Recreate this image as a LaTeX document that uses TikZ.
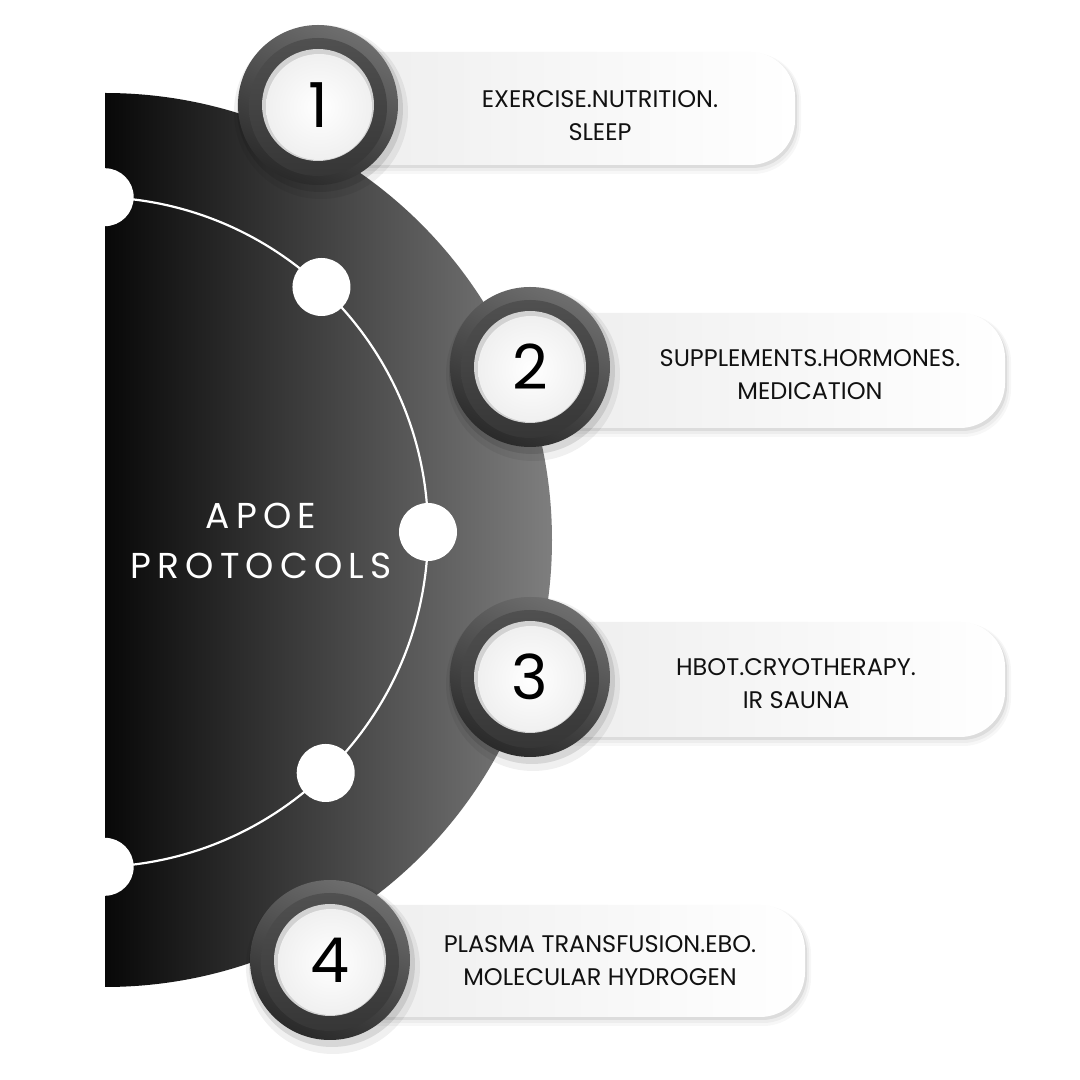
\documentclass[tikz,border=0pt]{standalone}
\usepackage{fontspec}
\usetikzlibrary{calc}
\newfontfamily\pop{Poppins}
\newfontfamily\popsp[LetterSpace=17]{Poppins}
\definecolor{diskL}{HTML}{080808}
\definecolor{diskR}{HTML}{7E7E7E}
\definecolor{ringTop}{HTML}{6E6E6E}
\definecolor{ringBot}{HTML}{2A2A2A}
\definecolor{midTop}{HTML}{505050}
\definecolor{midBot}{HTML}{363636}
\definecolor{rimgray}{HTML}{D2D2D2}
\definecolor{tabL}{HTML}{EDEDED}
\definecolor{txt}{HTML}{111111}
\tikzset{
  dot/.style={circle,fill=white,inner sep=0pt,minimum size=58pt},
  digit/.style={font=\pop\fontsize{62}{62}\selectfont,text=black,inner sep=0pt},
  tabtext/.style={font=\pop\fontsize{24}{33}\selectfont,text=txt,align=center,inner sep=0pt},
  titletext/.style={font=\popsp\fontsize{36}{50}\selectfont,text=white,align=center,inner sep=0pt},
}
\newcommand\mytab[5]{%
  \fill[black,opacity=0.03,rounded corners=48] (#2+2,#3-9) rectangle (#4+6,#5-1);
  \fill[black,opacity=0.04,rounded corners=46] (#2+2,#3-6) rectangle (#4+4,#5-2);
  \fill[black,opacity=0.07,rounded corners=45] (#2+2,#3-3) rectangle (#4+2,#5-3);
  \shade[rounded corners=45,left color=tabL,right color=white] (#2,#3) rectangle (#4,#5);
  \coordinate (#1) at (#4,#3);
}
\newcommand\mybadge[4]{%
  \fill[black,opacity=0.06] (#2+3,#3-7) circle (87);
  \fill[black,opacity=0.10] (#2+2,#3-4) circle (83);
  \shade[top color=ringTop,bottom color=ringBot,shading angle=-25] (#2,#3) circle (80);
  \shade[top color=midTop,bottom color=midBot] (#2,#3-2) circle (69);
  \fill[rimgray] (#2,#3) circle (56);
  \shade[inner color=white,outer color=white!94!black] (#2+1,#3-2) circle (53);
  \node[digit] (#1) at (#2,#3) {#4};
}
\begin{document}
\begin{tikzpicture}[x=1pt,y=1pt]
\useasboundingbox[fill=white] (0,0) rectangle (1080,1080);
% half disk
\shade[left color=diskL,right color=diskR] (105,987) arc (90:-90:447) -- cycle;
\coordinate (C) at (93,548);
% inner arc
\draw[white,line width=2.2pt] ($(C)+(88:335)$) arc (88:-88:335);
\foreach \a/\n in {88/d1,47/d2,0/d3,-46/d4,-88/d5}{
  \node[dot] (\n) at ($(C)+(\a:335)$) {};
}
\node[titletext] (title) at (261,539) {APOE\\PROTOCOLS};
% tabs
\mytab{t1}{318}{915}{795}{1028}
\mytab{t2}{530}{652}{1005}{767}
\mytab{t3}{530}{343}{1005}{458}
\mytab{t4}{330}{63}{805}{175}
\node[tabtext] (l1) at (600,964) {EXERCISE.NUTRITION.\\SLEEP};
\node[tabtext] (l2) at (810,705) {SUPPLEMENTS.HORMONES.\\MEDICATION};
\node[tabtext] (l3) at (796,396) {HBOT.CRYOTHERAPY.\\IR SAUNA};
\node[tabtext] (l4) at (600,119.5) {PLASMA TRANSFUSION.EBO.\\MOLECULAR HYDROGEN};
% badges
\mybadge{b1}{318}{975}{1}
\mybadge{b2}{530}{713}{2}
\mybadge{b3}{530}{403}{3}
\mybadge{b4}{330}{120}{4}
\end{tikzpicture}
\end{document}
